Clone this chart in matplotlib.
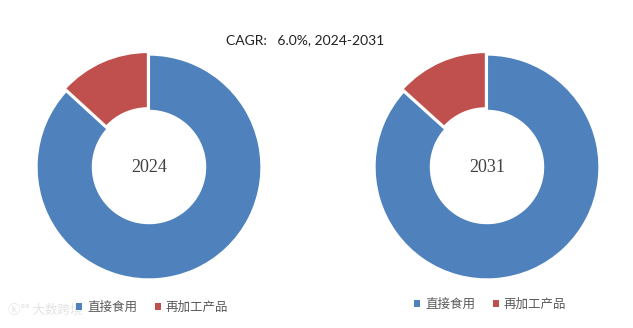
import matplotlib.pyplot as plt
from matplotlib.patches import Patch

plt.rcParams['font.family'] = ['Noto Sans CJK SC', 'DejaVu Sans']

# 数据
years = ['2024', '2031']
labels = ['直接食用', '再加工产品']
share_2024 = [86.8, 13.2]
share_2031 = [86.7, 13.3]
title_text = 'CAGR:   6.0%, 2024-2031'

colors = ['#4F81BD', '#C0504D']
W, H = 633, 328

fig = plt.figure(figsize=(W / 100, H / 100), dpi=100)


def donut(cx, cy, r, values, year):
    ax = fig.add_axes([(cx - r) / W, (H - cy - r) / H, 2 * r / W, 2 * r / H])
    ax.pie(values, colors=colors, startangle=90, counterclock=False,
           explode=[0, 0.025], radius=1.0,
           wedgeprops=dict(width=0.5, edgecolor='white', linewidth=1.5))
    ax.set_xlim(-1.05, 1.05)
    ax.set_ylim(-1.05, 1.05)
    ax.set_aspect('equal')
    ax.axis('off')
    ax.text(0, 0, year, ha='center', va='center', fontsize=13,
            family='Liberation Serif', color='#404040')
    return ax


donut(149, 167, 118, share_2024, years[0])
donut(487, 167, 118, share_2031, years[1])

fig.text(305 / W, 1 - 40 / H, title_text, ha='center', va='center',
         fontsize=10, family='Lato', color='#222222')

handles = [Patch(facecolor=c, edgecolor='none') for c in colors]
for x, y in [(152, 307), (490, 304)]:
    fig.legend(handles, labels, loc='center', bbox_to_anchor=(x / W, 1 - y / H),
               ncol=2, frameon=False, handlelength=0.5, handleheight=0.5,
               handletextpad=0.4, columnspacing=1.4,
               prop={'family': 'Noto Sans CJK SC', 'size': 9},
               labelcolor='#595959')

# 水印
fig.text(8 / W, 1 - 310 / H, 'ⓚ°° 大数跨境', ha='left', va='center', fontsize=9,
         family=['Noto Sans CJK SC', 'DejaVu Sans'], color='#e3e3e3')

fig.savefig('out.png', dpi=100)
